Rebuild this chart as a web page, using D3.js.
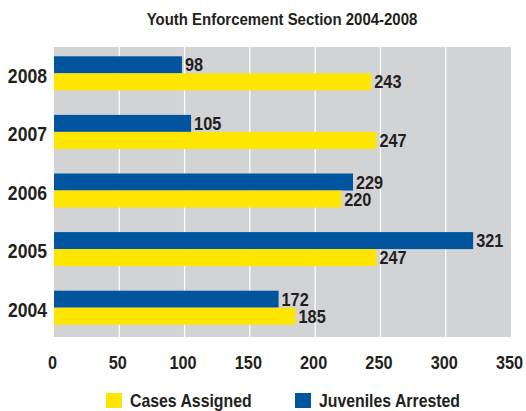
<!DOCTYPE html>
<html>
<head>
<meta charset="utf-8">
<script src="https://cdn.jsdelivr.net/npm/d3@7"></script>
<style>
  body { margin: 0; background: #fff; }
  svg text {
    font-family: "Liberation Sans", Arial, sans-serif; font-weight: bold; fill: #231f20;
    transform-box: fill-box; transform: scaleX(0.88); transform-origin: left center;
  }
  svg text.mid { transform-origin: center center; }
  svg text.end { transform-origin: right center; }
</style>
</head>
<body>
<div id="chart"></div>
<script>
const years = ['2008', '2007', '2006', '2005', '2004'];
const juvenilesArrested = [98, 105, 229, 321, 172];
const casesAssigned = [243, 247, 220, 247, 185];
const xTicks = [0, 50, 100, 150, 200, 250, 300, 350];

const width = 526;
const height = 411;
const plot = { left: 54, right: 511, top: 47, bottom: 337 };
const blue = '#00569e';
const yellow = '#ffe600';

const svg = d3.select('#chart').append('svg')
  .attr('width', width)
  .attr('height', height);

// Title
svg.append('text')
  .attr('class', 'mid')
  .attr('x', 282)
  .attr('y', 25)
  .attr('text-anchor', 'middle')
  .style('font-size', '17px')
  .text('Youth Enforcement Section 2004-2008');

const x = d3.scaleLinear().domain([0, 350]).range([plot.left, plot.right]);
const y = d3.scaleBand().domain(years).range([44, 337]);
const barH = 17;

// background + grid
svg.append('rect')
  .attr('x', plot.left).attr('y', plot.top)
  .attr('width', plot.right - plot.left).attr('height', plot.bottom - plot.top)
  .attr('fill', '#d2d3d5');

svg.selectAll('line.grid')
  .data(xTicks.slice(1, -1))
  .enter().append('line')
  .attr('class', 'grid')
  .attr('x1', d => x(d)).attr('x2', d => x(d))
  .attr('y1', plot.top).attr('y2', plot.bottom)
  .attr('stroke', '#fff').attr('stroke-width', 1.2);

const data = years.map((yr, i) => ({ year: yr, arrested: juvenilesArrested[i], cases: casesAssigned[i] }));

const groups = svg.selectAll('g.year')
  .data(data)
  .enter().append('g')
  .attr('class', 'year')
  .attr('transform', d => `translate(0,${y(d.year) + y.bandwidth() / 2})`);

groups.append('rect')
  .attr('x', x(0)).attr('y', -barH)
  .attr('width', d => x(d.arrested) - x(0)).attr('height', barH)
  .attr('fill', blue);

groups.append('rect')
  .attr('x', x(0)).attr('y', 0)
  .attr('width', d => x(d.cases) - x(0)).attr('height', barH)
  .attr('fill', yellow);

groups.append('text')
  .attr('x', d => x(d.arrested) + 3).attr('y', -barH / 2)
  .attr('dy', '0.36em')
  .style('font-size', '18.5px')
  .text(d => d.arrested);

groups.append('text')
  .attr('x', d => x(d.cases) + 3).attr('y', barH / 2)
  .attr('dy', '0.36em')
  .style('font-size', '18.5px')
  .text(d => d.cases);

// year labels
groups.append('text')
  .attr('class', 'end')
  .attr('x', 47).attr('y', 2)
  .attr('dy', '0.36em')
  .attr('text-anchor', 'end')
  .style('font-size', '20px')
  .text(d => d.year);

// x axis labels
const xAxis = svg.append('g')
  .attr('transform', `translate(0,${plot.bottom})`)
  .call(d3.axisBottom(x).tickValues(xTicks).tickSize(0).tickPadding(19));
xAxis.select('.domain').remove();
xAxis.selectAll('text')
  .attr('class', 'mid')
  .attr('dx', '-2px')
  .style('font-size', '18.5px');

// legend
const legend = [
  { label: 'Cases Assigned', color: yellow, x: 106 },
  { label: 'Juveniles Arrested', color: blue, x: 295 }
];
const lg = svg.selectAll('g.legend')
  .data(legend)
  .enter().append('g')
  .attr('class', 'legend')
  .attr('transform', d => `translate(${d.x},393)`);
lg.append('rect')
  .attr('width', 16).attr('height', 15)
  .attr('fill', d => d.color);
lg.append('text')
  .attr('x', 24).attr('y', 14)
  .style('font-size', '18px')
  .text(d => d.label);
</script>
</body>
</html>
